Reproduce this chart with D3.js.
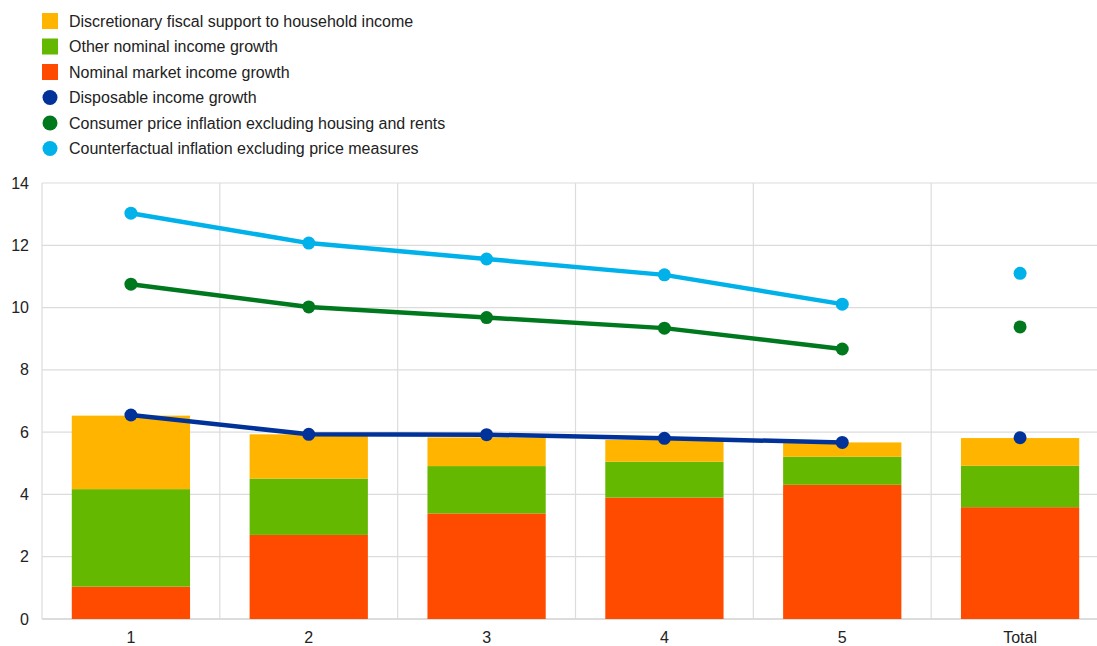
<!DOCTYPE html>
<html><head><meta charset="utf-8">
<script src="https://cdn.jsdelivr.net/npm/d3@7"></script>
<style>
body{margin:0;background:#fff;}
text{font-family:"Liberation Sans",Arial,sans-serif;fill:#222;}
</style></head>
<body><svg id="chart" width="1097" height="646"></svg>
<script>
const categories = ["1","2","3","4","5","Total"];
const marketIncome = [1.04, 2.70, 3.39, 3.90, 4.31, 3.59];
const otherIncome = [3.13, 1.81, 1.52, 1.15, 0.90, 1.33];
const fiscalSupport = [2.36, 1.42, 0.92, 0.70, 0.46, 0.89];
const disposableIncome = [6.55, 5.93, 5.92, 5.80, 5.67, 5.82];
const cpiExHousing = [10.75, 10.02, 9.68, 9.34, 8.67, 9.38];
const counterfactual = [13.03, 12.07, 11.56, 11.05, 10.11, 11.10];
const yTicks = [0,2,4,6,8,10,12,14];

const barSeries = [
  {name:"Discretionary fiscal support to household income", color:"#FFB400", values: fiscalSupport},
  {name:"Other nominal income growth", color:"#65B800", values: otherIncome},
  {name:"Nominal market income growth", color:"#FF4B00", values: marketIncome}
];
const lineSeries = [
  {name:"Disposable income growth", color:"#003299", values: disposableIncome},
  {name:"Consumer price inflation excluding housing and rents", color:"#00781E", values: cpiExHousing},
  {name:"Counterfactual inflation excluding price measures", color:"#00B1EA", values: counterfactual}
];

const svg = d3.select("#chart");
const mLeft = 42, mRight = 1109, mTop = 183, mBottom = 619;
const x = d3.scaleBand().domain(categories).range([mLeft, mRight]).paddingInner(0).paddingOuter(0);
const y = d3.scaleLinear().domain([0,14]).range([mBottom, mTop]);
const barW = x.bandwidth()*0.665;

// gridlines
const g = svg.append("g");
g.selectAll("line.h").data(yTicks).join("line")
  .attr("x1", mLeft).attr("x2", mRight)
  .attr("y1", d=>y(d)).attr("y2", d=>y(d))
  .attr("stroke", "#dcdcdc").attr("stroke-width", d=>d===0?2:1.2);
g.selectAll("line.v").data(categories).join("line")
  .attr("x1", d=>x(d)).attr("x2", d=>x(d))
  .attr("y1", mTop).attr("y2", mBottom)
  .attr("stroke", "#dcdcdc").attr("stroke-width", 1.2);

// y axis labels
const yAxis = d3.axisLeft(y).tickValues(yTicks).tickSize(0).tickPadding(13);
svg.append("g").attr("transform", `translate(${mLeft},0)`).call(yAxis)
  .call(s=>s.select(".domain").remove())
  .selectAll("text").style("font-size","16px").attr("fill","#222").style("font-family","Liberation Sans, Arial, sans-serif");

const xAxis = d3.axisBottom(x).tickSize(0).tickPadding(13);
svg.append("g").attr("transform", `translate(0,${mBottom})`).call(xAxis)
  .call(s=>s.select(".domain").remove())
  .selectAll("text").style("font-size","16px").attr("fill","#222").style("font-family","Liberation Sans, Arial, sans-serif");

// stacked bars: bottom red, green, yellow top
const order = [barSeries[2], barSeries[1], barSeries[0]];
categories.forEach((c,i)=>{
  let base = 0;
  order.forEach(s=>{
    const v = s.values[i];
    svg.append("rect")
      .attr("x", x(c)+(x.bandwidth()-barW)/2)
      .attr("width", barW)
      .attr("y", y(base+v))
      .attr("height", y(base)-y(base+v))
      .attr("fill", s.color);
    base += v;
  });
});

// lines (categories 1-5) and dots (all)
const cx = c => x(c)+x.bandwidth()/2;
lineSeries.forEach(s=>{
  const pts = categories.slice(0,5).map((c,i)=>[cx(c), y(s.values[i])]);
  svg.append("path").attr("d", d3.line()(pts)).attr("fill","none")
    .attr("stroke", s.color).attr("stroke-width", 4.5).attr("stroke-linejoin","round");
  svg.selectAll(null).data(categories).join("circle")
    .attr("cx", d=>cx(d)).attr("cy", (d,i)=>y(s.values[i])).attr("r", 6.5)
    .attr("fill", s.color);
});

// legend
const legendItems = barSeries.map(s=>({...s, type:"rect"})).concat(lineSeries.map(s=>({...s,type:"circle"})));
const lg = svg.append("g");
legendItems.forEach((it,i)=>{
  const yy = 21 + i*25.5;
  if(it.type==="rect"){
    lg.append("rect").attr("x",42).attr("y",yy-8).attr("width",16).attr("height",16).attr("fill",it.color);
  } else {
    lg.append("circle").attr("cx",50).attr("cy",yy).attr("r",7.5).attr("fill",it.color);
  }
  lg.append("text").attr("x",69).attr("y",yy).attr("dy","0.35em")
    .style("font-size","16px").text(it.name);
});
</script></body></html>
